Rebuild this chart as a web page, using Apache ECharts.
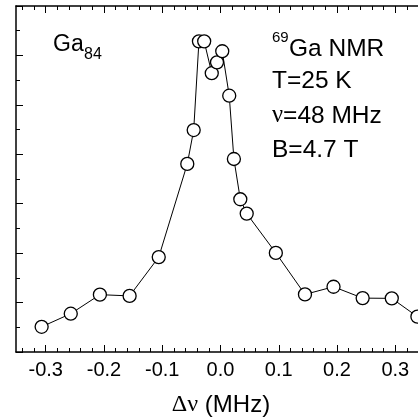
<!DOCTYPE html>
<html>
<head>
<meta charset="utf-8">
<script src="https://cdn.jsdelivr.net/npm/echarts@6/dist/echarts.min.js"></script>
<style>
  html, body { margin: 0; padding: 0; background: #fff; }
  #chartmain { width: 418px; height: 419px; }
</style>
</head>
<body>
<div id="chartmain"></div>
<script>
// frequency shift (MHz)
var shiftMHz = [-0.307, -0.257, -0.207, -0.156, -0.106, -0.057, -0.046, -0.037, -0.028, -0.015, -0.006,
                0.003, 0.015, 0.023, 0.034, 0.045, 0.095, 0.145, 0.194, 0.244, 0.294, 0.338];
// intensity (arb. units)
var intensity = [1.02, 1.55, 2.32, 2.27, 3.84, 7.61, 8.98, 12.57, 12.57, 11.28, 11.72,
                 12.17, 10.37, 7.81, 6.18, 5.60, 4.01, 2.33, 2.64, 2.18, 2.17, 1.43];
// x axis ticks
var xMajorTicks = [-0.3, -0.2, -0.1, 0.0, 0.1, 0.2, 0.3];
var xMinorTicks = [-0.34, -0.32, -0.28, -0.26, -0.24, -0.22, -0.18, -0.16, -0.14, -0.12,
                   -0.08, -0.06, -0.04, -0.02, 0.02, 0.04, 0.06, 0.08,
                   0.12, 0.14, 0.16, 0.18, 0.22, 0.24, 0.26, 0.28, 0.32];
var xMin = -0.351, xMax = 0.339;
var yMin = 0, yMax = 14;

var sans = 'Liberation Sans, Arial, sans-serif';
var serif = 'Liberation Serif, Times New Roman, serif';

var myChart = echarts.init(document.getElementById('chartmain'));

var gridBox = { left: 16, right: 0, top: 6, bottom: 67 };

function xAxisOf(gridIndex, position, ticks, len, showLine, showLabel) {
    return {
        type: 'value',
        gridIndex: gridIndex,
        position: position,
        min: xMin,
        max: xMax,
        axisLine: { show: showLine, onZero: false, lineStyle: { color: '#000', width: 1.5 } },
        axisTick: { show: true, inside: true, length: len, customValues: ticks, lineStyle: { color: '#000', width: 1 } },
        axisLabel: {
            show: showLabel,
            customValues: ticks,
            margin: 8,
            color: '#000',
            fontSize: 20,
            fontFamily: sans,
            formatter: function (v) { return v.toFixed(1); }
        },
        splitLine: { show: false }
    };
}

var option = {
    animation: false,
    backgroundColor: '#fff',
    grid: [
        Object.assign({}, gridBox),
        Object.assign({}, gridBox)
    ],
    xAxis: [
        xAxisOf(0, 'bottom', xMajorTicks, 7, true, true),
        xAxisOf(0, 'top', xMajorTicks, 7, true, false),
        xAxisOf(1, 'bottom', xMinorTicks, 4, false, false),
        xAxisOf(1, 'top', xMinorTicks, 4, false, false)
    ],
    yAxis: [
        {
            type: 'value',
            gridIndex: 0,
            min: yMin,
            max: yMax,
            interval: 2,
            axisLine: { show: true, onZero: false, lineStyle: { color: '#000', width: 1.5 } },
            axisTick: { show: true, inside: true, length: 7, lineStyle: { color: '#000', width: 1 } },
            minorTick: { show: true, splitNumber: 2, length: 4, lineStyle: { color: '#000', width: 1 } },
            axisLabel: { show: false },
            splitLine: { show: false }
        },
        {
            type: 'value',
            gridIndex: 1,
            min: yMin,
            max: yMax,
            show: false
        }
    ],
    series: [
        {
            type: 'line',
            xAxisIndex: 0,
            yAxisIndex: 0,
            data: shiftMHz.map(function (x, i) { return [x, intensity[i]]; }),
            symbol: 'circle',
            symbolSize: 13,
            lineStyle: { color: '#000', width: 1 },
            itemStyle: { color: '#fff', borderColor: '#000', borderWidth: 1.3 },
            clip: false,
            z: 3
        }
    ],
    graphic: [
        { type: 'text', x: 53, y: 45, style: { text: 'Ga', fontSize: 23, fontFamily: sans, fill: '#000', verticalAlign: 'middle' } },
        { type: 'text', x: 84, y: 55, style: { text: '84', fontSize: 16, fontFamily: sans, fill: '#000', verticalAlign: 'middle' } },
        { type: 'text', x: 272, y: 38, style: { text: '69', fontSize: 15, fontFamily: sans, fill: '#000', verticalAlign: 'middle' } },
        { type: 'text', x: 289, y: 49, style: { text: 'Ga NMR', fontSize: 24.5, fontFamily: sans, fill: '#000', verticalAlign: 'middle' } },
        { type: 'text', x: 272, y: 81, style: { text: 'T=25 K', fontSize: 24.5, fontFamily: sans, fill: '#000', verticalAlign: 'middle' } },
        {
            type: 'text', x: 272, y: 116,
            style: {
                text: '{s|ν}=48 MHz', fontSize: 24.5, fontFamily: sans, fill: '#000', verticalAlign: 'middle',
                rich: { s: { fontSize: 24.5, fontFamily: serif, fill: '#000' } }
            }
        },
        { type: 'text', x: 272, y: 150, style: { text: 'B=4.7 T', fontSize: 24.5, fontFamily: sans, fill: '#000', verticalAlign: 'middle' } },
        {
            type: 'text', x: 221, y: 405,
            style: {
                text: '{s|Δν} (MHz)', fontSize: 24, fontFamily: sans, fill: '#000', align: 'center', verticalAlign: 'middle',
                rich: { s: { fontSize: 24, fontFamily: serif, fill: '#000' } }
            }
        }
    ]
};

myChart.setOption(option);
</script>
</body>
</html>
